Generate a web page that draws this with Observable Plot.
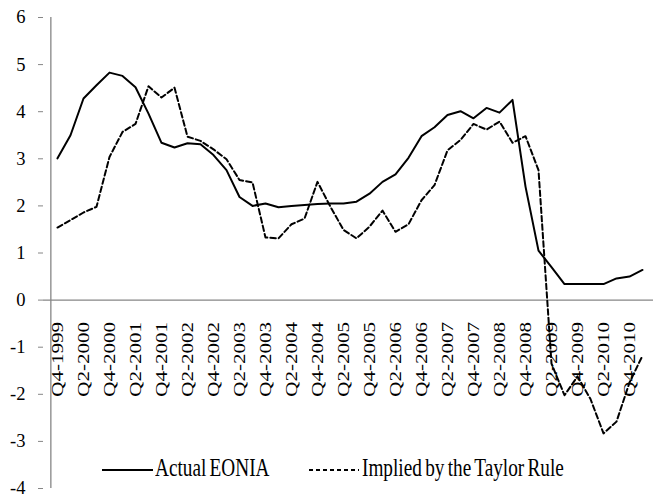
<!DOCTYPE html>
<html>
<head>
<meta charset="utf-8">
<script src="https://cdn.jsdelivr.net/npm/d3@7"></script>
<script src="https://cdn.jsdelivr.net/npm/@observablehq/plot@0.6"></script>
<style>
  html, body { margin: 0; padding: 0; background: #fff; overflow: hidden; }
  #wrap { position: relative; width: 653px; height: 498px; font-family: "Liberation Serif", "Times New Roman", serif; }
  .leg { position: absolute; top: 0; left: 0; width: 653px; height: 498px; pointer-events: none; }
  .sw { position: absolute; height: 2px; }
  .lt { position: absolute; font-size: 26px; line-height: 26px; white-space: nowrap; transform: scaleX(0.74); transform-origin: left center; color: #000; word-spacing: -2px; }
</style>
</head>
<body>
<div id="wrap"></div>
<script>
const quarters = [
  "Q4-1999","Q1-2000","Q2-2000","Q3-2000","Q4-2000","Q1-2001","Q2-2001","Q3-2001","Q4-2001",
  "Q1-2002","Q2-2002","Q3-2002","Q4-2002","Q1-2003","Q2-2003","Q3-2003","Q4-2003",
  "Q1-2004","Q2-2004","Q3-2004","Q4-2004","Q1-2005","Q2-2005","Q3-2005","Q4-2005",
  "Q1-2006","Q2-2006","Q3-2006","Q4-2006","Q1-2007","Q2-2007","Q3-2007","Q4-2007",
  "Q1-2008","Q2-2008","Q3-2008","Q4-2008","Q1-2009","Q2-2009","Q3-2009","Q4-2009",
  "Q1-2010","Q2-2010","Q3-2010","Q4-2010","Q1-2011"
];
const actualEonia = [
  3.01, 3.50, 4.28, 4.56, 4.83, 4.76, 4.52, 3.96, 3.34,
  3.24, 3.33, 3.31, 3.08, 2.76, 2.19, 2.00, 2.05,
  1.97, 2.00, 2.02, 2.04, 2.05, 2.05, 2.09, 2.26,
  2.51, 2.67, 3.02, 3.48, 3.67, 3.93, 4.01, 3.86,
  4.08, 3.98, 4.25, 2.41, 1.05, 0.70, 0.34, 0.34,
  0.34, 0.34, 0.46, 0.50, 0.64
];
const taylorRule = [
  1.54, 1.70, 1.86, 1.98, 3.04, 3.57, 3.74, 4.54, 4.30,
  4.51, 3.47, 3.38, 3.20, 2.99, 2.55, 2.50, 1.33,
  1.31, 1.61, 1.73, 2.51, 1.98, 1.49, 1.31, 1.56,
  1.90, 1.45, 1.61, 2.12, 2.44, 3.18, 3.40, 3.74,
  3.62, 3.79, 3.34, 3.48, 2.76, -1.35, -2.02, -1.62,
  -2.10, -2.83, -2.58, -1.75, -1.18
];
const yTicks = [-4, -3, -2, -1, 0, 1, 2, 3, 4, 5, 6];
const xTickLabels = quarters.filter((q, i) => i % 2 === 0);
const seriesNames = ["Actual EONIA", "Implied by the Taylor Rule"];

const data = quarters.map((q, i) => ({q, eonia: actualEonia[i], taylor: taylorRule[i]}));
const grey = "#868686";
const font = '"Liberation Serif", "Times New Roman", serif';

const chart = Plot.plot({
  width: 653,
  height: 498,
  marginLeft: 43,
  marginRight: -3,
  marginTop: 17,
  marginBottom: 10,
  style: {fontFamily: font, fontSize: "18px", background: "white", color: "black"},
  x: {type: "point", domain: quarters, padding: 0.5, axis: null},
  y: {domain: [-4, 6], axis: null},
  marks: [
    Plot.ruleY([0], {stroke: grey, strokeWidth: 1.3}),
    Plot.axisY({ticks: yTicks, tickSize: 5, tickPadding: 13, stroke: grey, fill: "black", fontSize: 18.5, tickFormat: d => String(d)}),
    Plot.ruleX([quarters[0]], {stroke: grey, strokeWidth: 1.3, dx: -6.65}),
    Plot.text(xTickLabels, {x: d => d, y: () => 0, text: d => d, rotate: -90, textAnchor: "end", dy: 22, fontSize: 17.5, fill: "black", className: "xlab"}),
    Plot.line(data, {x: "q", y: "eonia", stroke: "black", strokeWidth: 2}),
    Plot.line(data, {x: "q", y: "taylor", stroke: "black", strokeWidth: 2, strokeDasharray: "5.5,3"})
  ]
});
chart.querySelectorAll(".xlab text").forEach(t => {
  t.setAttribute("transform", (t.getAttribute("transform") || "") + " scale(1.2,1)");
});
const wrap = document.getElementById("wrap");
wrap.appendChild(chart);

// legend overlay (HTML)
const leg = document.createElement("div");
leg.className = "leg";
leg.innerHTML = `
  <div class="sw" style="left:102px;top:469px;width:51px;background:#000"></div>
  <div class="lt" style="left:155px;top:455px">${seriesNames[0]}</div>
  <div class="sw" style="left:309px;top:469px;width:50px;background:repeating-linear-gradient(to right,#000 0,#000 4px,transparent 4px,transparent 7px)"></div>
  <div class="lt" style="left:362px;top:455px">${seriesNames[1]}</div>`;
wrap.appendChild(leg);
</script>
</body>
</html>
